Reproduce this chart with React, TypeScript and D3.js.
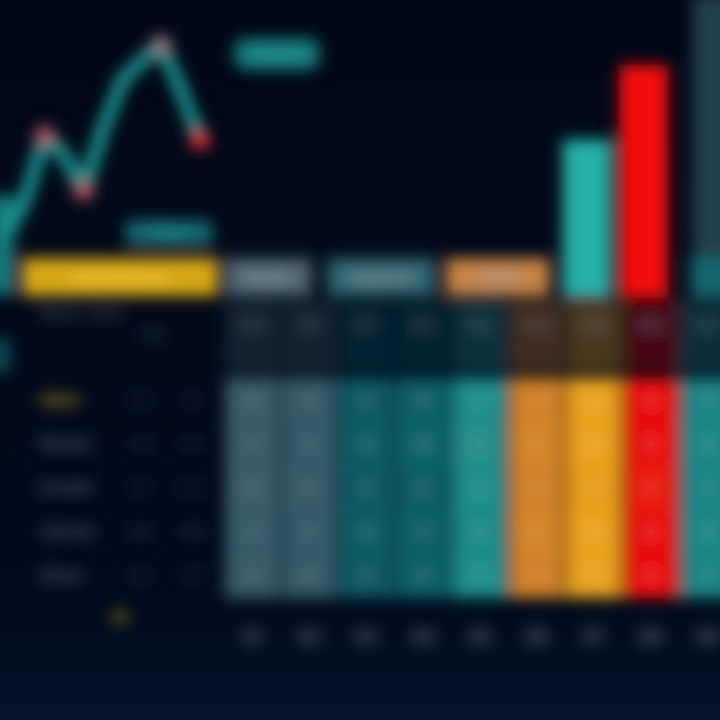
import React from "react";
import * as d3 from "d3";

const W = 720;
const H = 720;

// line chart (top-left)
const lineLabels = ["W1", "W2", "W3", "W4", "W5", "W6", "W7", "W8", "W9", "W10", "W11"];
const lineValues = [7, 23, 52, 43, 27, 55, 77, 86, 93, 73, 50];
const markerIndex = [2, 4, 8, 10];
const markerColors = ["#b85a66", "#b85a66", "#9a8088", "#e0303a"];

// table columns
const columns = ["Q1", "Q2", "Q3", "Q4", "Q5", "Q6", "Q7", "Q8", "Q9"];
const rowLabels = ["Sales", "Margin", "Growth", "Volume", "Share"];
const rowValues = [
  [30, 32, 45, 47, 60, 79, 88, 98, 57],
  [31, 33, 46, 48, 61, 80, 88, 98, 58],
  [30, 31, 45, 46, 60, 79, 87, 97, 57],
  [32, 33, 46, 47, 59, 80, 88, 98, 58],
  [31, 32, 45, 47, 60, 79, 88, 98, 57],
];
const subValues = ["12.4", "13.1", "8.7", "9.2", "15.6", "22.3", "24.8", "31.5", "16.2"];
const leftColA = ["4.2", "3.8", "5.1", "2.9", "4.4"];
const leftColB = ["+1.2", "-0.4", "+2.3", "+0.8", "+1.5"];

// bars over the last columns
const barColumns = ["Q7", "Q8", "Q9"];
const barValues = [68, 100, 130];
const barColors = ["#26b0a8", "#f41010", "#24404c"];

// header groups
const headerLabels = ["Performance", "Region", "Segment", "Trend"];
const headerColors = ["#d8a814", "#4d6470", "#2e6670", "#c88444"];

export default function App() {
  const x = d3.scalePoint<string>().domain(lineLabels).range([6, 200]);
  const y = d3.scaleLinear().domain([0, 100]).range([250, 30]);
  const line = d3
    .line<number>()
    .x((_, i) => x(lineLabels[i]) as number)
    .y((d) => y(d))
    .curve(d3.curveLinear);

  const col = d3.scaleBand<string>().domain(columns).range([225, 735]).paddingInner(0.04);
  const row = d3.scaleBand<string>().domain(rowLabels).range([378, 598]);
  const heat = d3
    .scaleLinear<string>()
    .domain([30, 45, 60, 79, 88, 98])
    .range(["#3a5c68", "#0d5a62", "#1f8e8c", "#d08028", "#eaa21e", "#e81010"]);

  const barY = d3.scaleLinear().domain([0, 100]).range([298, 65]);

  const headerSpans = [
    [22, 218],
    [col("Q1") as number, (col("Q2") as number) + 30],
    [(col("Q2") as number) + 45, (col("Q4") as number) + 40],
    [(col("Q4") as number) + 50, (col("Q6") as number) + 40],
  ];

  return (
    <svg
      width={W}
      height={H}
      style={{ position: "fixed", left: 0, top: 0, display: "block" }}
      fontFamily="Inter, 'Noto Sans', sans-serif"
    >
      <defs>
        <filter id="soft" x="-5%" y="-5%" width="110%" height="110%">
          <feGaussianBlur stdDeviation="7.5" />
        </filter>
        <linearGradient id="bg" x1="0" y1="0" x2="0" y2="1">
          <stop offset="0" stopColor="#020716" />
          <stop offset="0.85" stopColor="#020c1e" />
          <stop offset="1" stopColor="#03142a" />
        </linearGradient>
      </defs>
      <rect x={0} y={0} width={W} height={H} fill="url(#bg)" />
      <g filter="url(#soft)">
        {/* left edge accents */}
        <rect x={-10} y={195} width={24} height={100} fill="#1a9090" opacity={0.85} />
        <rect x={-10} y={338} width={20} height={34} fill="#13686c" opacity={0.7} />

        {/* line chart */}
        <path d={line(lineValues) || ""} fill="none" stroke="#1f9c9a" strokeWidth={13} strokeLinejoin="round" />
        {markerIndex.map((idx, i) => (
          <circle
            key={idx}
            cx={x(lineLabels[idx]) as number}
            cy={y(lineValues[idx])}
            r={10}
            fill={markerColors[i]}
          />
        ))}
        <rect x={234} y={38} width={86} height={32} rx={12} fill="#17777a" />
        <text x={277} y={60} textAnchor="middle" fill="#2fb0aa" fontSize={16} fontWeight={700}>
          +12.5%
        </text>
        <rect x={125} y={220} width={88} height={26} rx={8} fill="#156870" />
        <text x={169} y={238} textAnchor="middle" fill="#2a9a98" fontSize={14} fontWeight={700}>
          Peak
        </text>

        {/* bars */}
        {barColumns.map((c, i) => (
          <rect
            key={c}
            x={(col(c) as number) + (i === 2 ? 12 : -4)}
            y={barY(barValues[i])}
            width={col.bandwidth() - (i === 2 ? 0 : 6)}
            height={298 - barY(barValues[i])}
            fill={barColors[i]}
          />
        ))}

        {/* header row */}
        {headerSpans.map(([a, b], i) => (
          <g key={i}>
            <rect x={a} y={258} width={b - a} height={38} fill={headerColors[i]} />
            <text x={(a + b) / 2} y={283} textAnchor="middle" fill={i === 0 ? "#f2d040" : "#8aa0aa"} fontSize={15} fontWeight={700}>
              {headerLabels[i]}
            </text>
          </g>
        ))}
        <rect x={(col("Q9") as number) + 10} y={258} width={60} height={38} fill="#17686e" />

        {/* sub header row */}
        <text x={40} y={318} fill="#5a6a7a" fontSize={14}>Metric name</text>
        <text x={140} y={338} fill="#4a5a6a" fontSize={13}>Avg</text>
        {columns.map((c, i) => (
          <g key={c}>
            <rect
              x={col(c) as number}
              y={300}
              width={col.bandwidth()}
              height={72}
              fill={heat(rowValues[0][i])}
              opacity={0.3}
            />
            <text
              x={(col(c) as number) + col.bandwidth() / 2}
              y={330}
              textAnchor="middle"
              fill="#7a8a96"
              fontSize={13}
            >
              {subValues[i]}
            </text>
          </g>
        ))}

        {/* body cells */}
        {rowLabels.map((r, ri) => (
          <g key={r}>
            {columns.map((c, ci) => (
              <rect
                key={c}
                x={col(c) as number}
                y={row(r) as number}
                width={col.bandwidth()}
                height={row.bandwidth()}
                fill={heat(rowValues[ri][ci])}
              />
            ))}
            {columns.map((c, ci) => (
              <text
                key={"t" + c}
                x={(col(c) as number) + col.bandwidth() / 2}
                y={(row(r) as number) + row.bandwidth() / 2 + 5}
                textAnchor="middle"
                fill="rgba(255,255,255,0.3)"
                fontSize={13}
              >
                {rowValues[ri][ci]}
              </text>
            ))}
            <text
              x={40}
              y={(row(r) as number) + row.bandwidth() / 2 + 5}
              fill={ri === 0 ? "#c8a020" : "#4f5e6e"}
              fontSize={15}
              fontWeight={700}
            >
              {r}
            </text>
            <text
              x={140}
              y={(row(r) as number) + row.bandwidth() / 2 + 5}
              textAnchor="middle"
              fill="#3c4a5a"
              fontSize={14}
            >
              {leftColA[ri]}
            </text>
            <text
              x={190}
              y={(row(r) as number) + row.bandwidth() / 2 + 5}
              textAnchor="middle"
              fill="#3c4a5a"
              fontSize={14}
            >
              {leftColB[ri]}
            </text>
          </g>
        ))}

        {/* footer */}
        <text x={120} y={624} textAnchor="middle" fill="#b09a20" fontSize={20} fontWeight={700}>
          ★
        </text>
        {columns.map((c) => (
          <text
            key={"f" + c}
            x={(col(c) as number) + col.bandwidth() / 2}
            y={642}
            textAnchor="middle"
            fill="#6a7a88"
            fontSize={16}
            fontWeight={700}
          >
            {c}
          </text>
        ))}
      </g>
    </svg>
  );
}
